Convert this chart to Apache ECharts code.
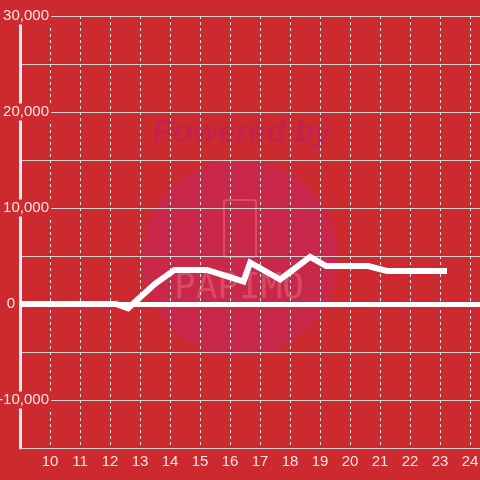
<!DOCTYPE html>
<html>
<head>
<meta charset="utf-8">
<script src="https://cdn.jsdelivr.net/npm/echarts@6/dist/echarts.min.js"></script>
<style>
  html, body { margin: 0; padding: 0; background: #cc2a2f; }
  #chart { width: 480px; height: 480px; }
</style>
</head>
<body>
<div id="chart"></div>
<script>
// x positions and values of the line
const xVals = [9, 12.2, 12.6, 13.5, 14.15, 15.23, 16.45, 16.67, 17.67, 18.67, 19.2, 20.6, 21.23, 23.23];
const yVals = [0, 0, -450, 2100, 3550, 3550, 2350, 4300, 2550, 4900, 3950, 3950, 3450, 3450];

const xMin = 9, xMax = 24.33, xStep = 1;
const yMin = -15000, yMax = 30000, yStep = 5000, yLabelStep = 10000;

const bg = '#cc2a2f';
const labelColor = 'rgba(255,255,255,0.88)';
const font = "'Liberation Sans', Arial, sans-serif";
const fontSize = 15;

const chart = echarts.init(document.getElementById('chart'));

const option = {
  backgroundColor: bg,
  animation: false,
  textStyle: { fontFamily: font },
  grid: { left: 20, right: 0, top: 16, bottom: 32, outerBoundsMode: 'none' },
  // watermark
  graphic: [
    { type: 'circle', z: 0, shape: { cx: 240, cy: 258, r: 98 }, style: { fill: '#c9284a' } },
    {
      type: 'text', z: 0, x: 242, y: 133,
      style: {
        text: 'Powered by', fill: '#c4224e',
        font: "italic bold 32px " + font,
        align: 'center', verticalAlign: 'middle'
      }
    },
    {
      type: 'rect', z: 0,
      shape: { x: 224, y: 200, width: 32, height: 57, r: 3 },
      style: { fill: 'none', stroke: 'rgba(230,110,125,0.55)', lineWidth: 2 }
    },
    {
      type: 'text', z: 0, x: 239, y: 289,
      style: {
        text: 'PAPIMO', fill: 'rgba(230,110,125,0.5)',
        font: "36px 'DejaVu Sans Mono', monospace",
        align: 'center', verticalAlign: 'middle'
      }
    }
  ],
  xAxis: {
    type: 'value',
    z: 1,
    min: xMin,
    max: xMax,
    interval: xStep,
    axisLine: { show: true, onZero: false, lineStyle: { color: '#cfcfcf', width: 1 } },
    axisTick: { show: false },
    axisLabel: {
      color: labelColor,
      fontFamily: font,
      fontSize: fontSize,
      margin: 6,
      showMinLabel: false,
      formatter: v => (Number.isInteger(v) && v > xMin ? String(v) : '')
    },
    splitLine: { show: true, lineStyle: { color: '#e0e0e0', width: 1, type: [3, 3] } }
  },
  yAxis: [
    {
      type: 'value',
      z: 1,
      min: yMin,
      max: yMax,
      interval: yStep,
      axisLine: { show: true, onZero: false, lineStyle: { color: '#f2eded', width: 3 } },
      axisTick: { show: false },
      axisLabel: { show: false },
      splitLine: { show: true, lineStyle: { color: '#d4d4d4', width: 1 } }
    },
    {
      // labels only, drawn above the grid lines
      type: 'value',
      position: 'left',
      z: 2,
      min: yMin,
      max: yMax,
      interval: yStep,
      axisLine: { show: false },
      axisTick: { show: false },
      splitLine: { show: false },
      axisLabel: {
        margin: -31,
        fontFamily: font,
        formatter: v => {
          if (v % yLabelStep !== 0) return '';
          if (v === 0) return '{z|0}';
          return '{n|' + v.toLocaleString('en-US') + '}';
        },
        rich: {
          n: { color: labelColor, fontFamily: font, fontSize: fontSize, backgroundColor: bg, padding: [1, 2, 1, 1] },
          z: { color: labelColor, fontFamily: font, fontSize: fontSize, padding: [0, 36, 0, 0] }
        }
      }
    }
  ],
  series: [
    {
      type: 'line',
      z: 3,
      yAxisIndex: 0,
      data: xVals.map((x, i) => [x, yVals[i]]),
      showSymbol: false,
      symbol: 'none',
      lineStyle: { color: '#ffffff', width: 6, cap: 'butt', join: 'miter' },
      markLine: {
        silent: true,
        symbol: ['none', 'none'],
        label: { show: false },
        lineStyle: { color: '#ffffff', width: 5, type: 'solid' },
        data: [{ yAxis: 0 }]
      }
    }
  ]
};

chart.setOption(option);
</script>
</body>
</html>
